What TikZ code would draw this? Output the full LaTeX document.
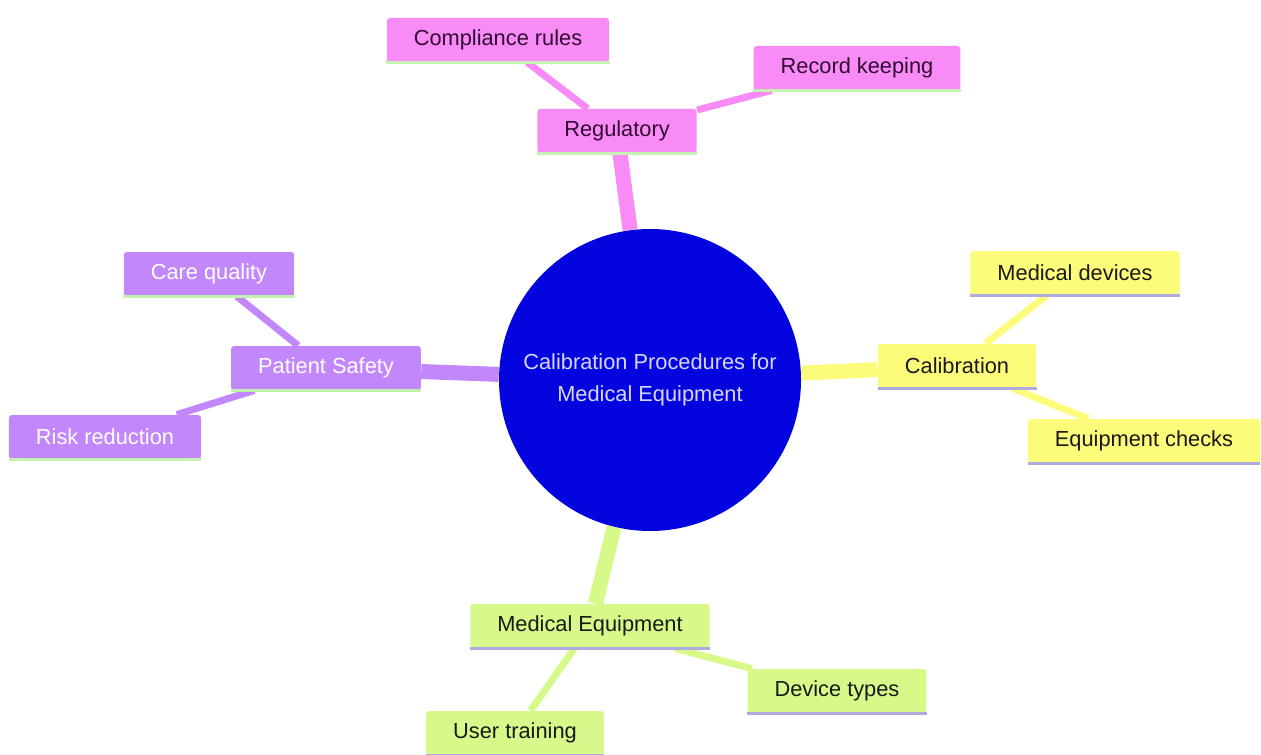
\documentclass[tikz,border=0pt]{standalone}
\usepackage{fontspec}
\setmainfont{Liberation Sans}
\usepackage{tikz}
\usetikzlibrary{backgrounds}
\definecolor{rootblue}{RGB}{4,4,222}
\definecolor{roottext}{RGB}{214,214,255}
\definecolor{pinkfill}{RGB}{249,139,246}
\definecolor{pinktext}{RGB}{48,10,48}
\definecolor{purplefill}{RGB}{194,135,250}
\definecolor{yellowfill}{RGB}{252,252,122}
\definecolor{greenfill}{RGB}{214,249,138}
\definecolor{greenline}{RGB}{196,240,176}
\definecolor{lavline}{RGB}{176,170,226}

\begin{document}
\begin{tikzpicture}[x=0.5pt,y=-0.5pt,
  every node/.style={font=\fontsize{10.9}{16}\selectfont},
  topic/.style={rectangle,rounded corners=1.5pt,inner xsep=13.5pt,inner ysep=0pt,minimum height=22pt},
  regsec/.style={topic,fill=pinkfill,text=pinktext},
  patsec/.style={topic,fill=purplefill,text=white},
  calsec/.style={topic,fill=yellowfill,text=black!90},
  equsec/.style={topic,fill=greenfill,text=black!90},
  trunk/.style={line width=7.5pt},
  twig/.style={line width=3.5pt}]
\useasboundingbox (0,0) rectangle (1261,754);

\node[circle,fill=rootblue,text=roottext,minimum size=151pt,align=center] (root) at (650,380)
  {Calibration Procedures for\\Medical Equipment};

\node[regsec] (reg) at (617,131) {Regulatory};
\node[regsec] (comp) at (498,40) {Compliance rules};
\node[regsec] (rec) at (857,68) {Record keeping};

\node[patsec] (pat) at (326,368) {Patient Safety};
\node[patsec] (care) at (209,274) {Care quality};
\node[patsec] (risk) at (105,437) {Risk reduction};

\node[calsec] (cal) at (957,366) {Calibration};
\node[calsec] (dev) at (1075,273) {Medical devices};
\node[calsec] (chk) at (1144,441) {Equipment checks};

\node[equsec] (equ) at (590,626) {Medical Equipment};
\node[equsec] (typ) at (837,691) {Device types};
\node[equsec] (usr) at (515,733) {User training};

\foreach \n/\c in {reg/greenline,comp/greenline,rec/greenline,
                   pat/greenline,care/greenline,risk/greenline,
                   cal/lavline,dev/lavline,chk/lavline,
                   equ/lavline,typ/lavline,usr/lavline}
  \draw[\c,line width=1.5pt] (\n.south west) -- (\n.south east);

\begin{scope}[on background layer]
\draw[trunk,pinkfill] (root) -- (reg);
\draw[trunk,purplefill] (root) -- (pat);
\draw[trunk,yellowfill] (root) -- (cal);
\draw[trunk,greenfill] (root) -- (equ);
\draw[twig,pinkfill] (reg) -- (comp);
\draw[twig,pinkfill] (reg) -- (rec);
\draw[twig,purplefill] (pat) -- (care);
\draw[twig,purplefill] (pat) -- (risk);
\draw[twig,yellowfill] (cal) -- (dev);
\draw[twig,yellowfill] (cal) -- (chk);
\draw[twig,greenfill] (equ) -- (typ);
\draw[twig,greenfill] (equ) -- (usr);
\end{scope}
\end{tikzpicture}
\end{document}
